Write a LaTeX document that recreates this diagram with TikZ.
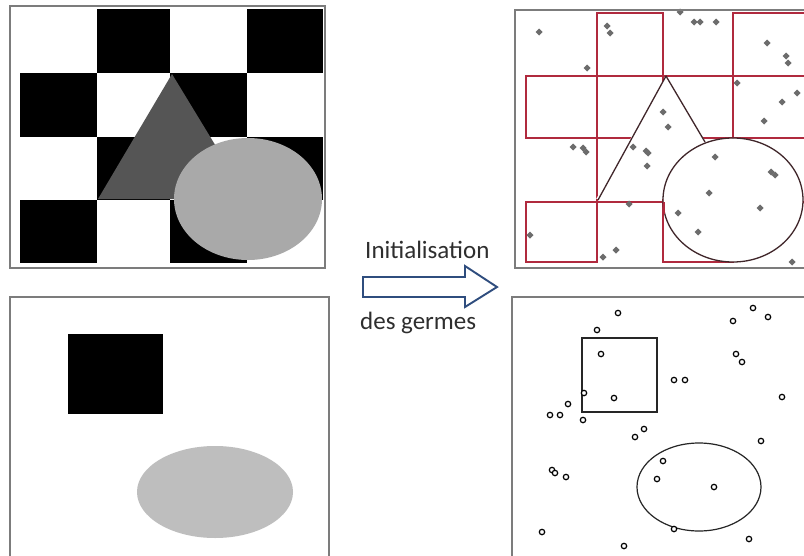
\documentclass[tikz,border=0pt]{standalone}
\usepackage{fontspec}
\setmainfont{Carlito}
\definecolor{framegray}{HTML}{7C7C7C}
\definecolor{triangray}{HTML}{555555}
\definecolor{discgray}{HTML}{A9A9A9}
\definecolor{ellgray}{HTML}{BEBEBE}
\definecolor{segred}{HTML}{B02A3E}
\definecolor{segdark}{HTML}{40262A}
\definecolor{seedgray}{HTML}{6C6C6C}
\definecolor{arrowblue}{HTML}{2F4D7E}
\definecolor{textgray}{HTML}{2E2E2E}

\begin{document}
\begin{tikzpicture}[x=1pt,y=-1pt]
\tikzset{
  panelframe/.style={draw=framegray,line width=1.4pt},
  blacksq/.style={fill=black},
  redsq/.style={draw=segred,line width=1.5pt},
  segline/.style={draw=segdark,line width=1.3pt,line join=round},
  seedtop/.style={fill=seedgray},
  seedbot/.style={draw=black,fill=white,line width=1.2pt},
  outline/.style={draw=black!85,line width=1.2pt},
  labeltext/.style={font=\fontsize{25}{29}\selectfont,text=textgray,inner sep=0pt},
  bigarrow/.style={draw=arrowblue,fill=white,line width=1.9pt,line join=miter}
}
\useasboundingbox (0,0) rectangle (804,555);
\clip (0,0) rectangle (804,555);
\fill[white] (0,0) rectangle (804,555);

\foreach \xa/\ya/\xb/\yb in {97/9/170/73,247/9/323/73,20/73/97/137,170/73/247/137,
  97/137/170/200,247/137/323/200,20/200/97/263,170/200/247/263}
  \fill[blacksq] (\xa,\ya) rectangle (\xb,\yb);
\fill[triangray] (172,74) -- (98,199) -- (248,199) -- cycle;
\fill[discgray] (248,199) ellipse[x radius=74,y radius=61];
\draw[panelframe] (10,6) rectangle (325,268);

\begin{scope}[even odd rule]
  \clip (500,0) rectangle (812,280) (666,76) -- (596,199) -- (740,199) -- cycle;
  \begin{scope}[even odd rule]
    \clip (500,0) rectangle (812,280) (733,200) ellipse[x radius=70,y radius=62];
    \foreach \xa/\ya/\xb/\yb in {597/13/663/76,733/13/806/76,526/76/597/138,663/76/733/138,
      597/138/663/202,733/138/806/202,526/202/597/262,663/202/733/262}
      \draw[redsq] (\xa,\ya) rectangle (\xb,\yb);
  \end{scope}
\end{scope}
\draw[segline] (598,200) -- (666,76) -- (705,142);
\draw[segline] (733,200) ellipse[x radius=70,y radius=62];
\draw[segred,line width=2.2pt] (664,202) -- (664,214);
\foreach \x/\y in {539/32,607/26,610/33,587/68,680/12,694/22,700/22,716/22,767/43,786/56,
  788/63,737/83,797/93,782/102,764/121,663/112,668/127,573/147,583/148,586/152,633/147,
  646/151,648/153,647/166,715/157,771/172,775/175,709/193,760/208,629/204,678/213,
  530/235,698/232,616/250,603/257,792/262}
  \fill[seedtop] (\x,\y) +(0,-3.5) -- +(3.5,0) -- +(0,3.5) -- +(-3.5,0) -- cycle;
\draw[panelframe] (515,10) rectangle (812,268);

\fill[blacksq] (68,334) rectangle (163,414);
\fill[ellgray] (215,492) ellipse[x radius=78,y radius=46];
\draw[panelframe] (10,297) rectangle (329,562);

\draw[outline] (582,338) rectangle (657,412);
\draw[outline] (699,487) ellipse[x radius=62,y radius=44];
\foreach \x/\y in {618/313,597/330,601/354,584/393,614/398,568/404,550/415,560/415,
  583/420,635/437,644/429,674/380,685/380,733/321,753/308,768/317,736/354,742/362,
  782/397,761/441,663/461,657/479,714/487,552/470,555/473,566/477,542/532,624/546,
  674/529,749/539}
  \draw[seedbot] (\x,\y) circle[radius=2.7];
\draw[panelframe] (512,297) rectangle (812,562);

\node[labeltext,anchor=base west] (init) at (365,258) {Initialisation};
\draw[bigarrow] (363,277) -- (465,277) -- (465,266) -- (497,287) -- (465,307)
  -- (465,297) -- (363,297) -- cycle;
\node[labeltext,anchor=base west] (germes) at (360,329) {des germes};
\end{tikzpicture}
\end{document}
